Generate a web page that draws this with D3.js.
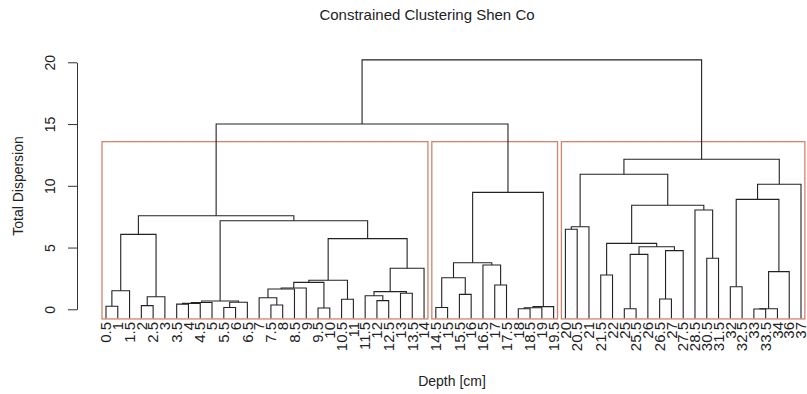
<!DOCTYPE html>
<html>
<head>
<meta charset="utf-8">
<script src="https://cdn.jsdelivr.net/npm/d3@7"></script>
<style>
	body { margin: 0; background: #fff; }
	text { font-family: 'Liberation Sans', Arial, sans-serif; fill: #222; }
</style>
</head>
<body>
<script>
// leaf labels (sample depths, cm), left to right
const depths = [0.5, 1, 1.5, 2, 2.5, 3, 3.5, 4, 4.5, 5, 5.5, 6, 6.5, 7, 7.5, 8, 8.5, 9, 9.5, 10,
	10.5, 11, 11.5, 12, 12.5, 13, 13.5, 14, 14.5, 15, 15.5, 16, 16.5, 17, 17.5, 18, 18.5, 19, 19.5,
	20, 20.5, 21, 21.5, 22, 25, 25.5, 26, 26.5, 27, 27.5, 28.5, 30.5, 31.5, 32, 32.5, 33, 33.5, 34, 36, 37];

// hclust-style merge table: negative = leaf number, positive = earlier merge (1-based)
const merges = [
	[-1, -2], [1, -3], [-4, -5], [3, -6], [2, 4],
	[-7, -8], [6, -9], [7, -10], [-11, -12], [9, -13], [8, 10],
	[-15, -16], [-14, 12], [13, -17], [14, -18], [-19, -20], [15, 16], [-21, -22], [17, 18],
	[-24, -25], [-23, 20], [-26, -27], [21, 22], [23, -28], [19, 24], [11, 25], [5, 26],
	[-29, -30], [-31, -32], [28, 29], [-34, -35], [-33, 31], [30, 32],
	[-36, -37], [34, -38], [35, -39], [33, 36], [27, 37],
	[-40, -41], [39, -42], [-43, -44], [-45, -46], [42, -47], [-48, -49], [44, -50], [43, 45], [41, 46],
	[-52, -53], [-51, 48], [47, 49], [40, 50],
	[-54, -55], [-56, -57], [53, -58], [54, -59], [52, 55], [56, -60], [51, 57], [38, 58]
];
const heights = [
	0.25, 1.5, 0.3, 1.02, 6.07,
	0.42, 0.48, 0.55, 0.15, 0.57, 0.67,
	0.35, 0.94, 1.64, 1.72, 0.1, 2.18, 0.81, 2.35,
	0.7, 1.1, 1.3, 1.43, 3.32, 5.72, 7.17, 7.58,
	0.15, 1.21, 2.56, 1.97, 3.59, 3.77,
	0.05, 0.12, 0.22, 9.47, 15.0,
	6.48, 6.69, 2.78, 0.05, 4.45, 0.83, 4.75, 5.07, 5.34,
	4.13, 8.04, 8.42, 10.93,
	1.83, 0.02, 0.04, 3.05, 8.9, 10.12, 12.15, 20.2
];

// three zones (leaf ranges) outlined like rect.hclust(k = 3)
const zoneFirst = [1, 29, 40];
const zoneLast = [28, 39, 60];

const yTicks = [0, 5, 10, 15, 20];

const width = 807, height = 394;
const leafBottom = -0.72;
const boxBottom = -0.78;

const svg = d3.select('body').append('svg')
	.attr('width', width)
	.attr('height', height)
	.attr('xmlns', 'http://www.w3.org/2000/svg');

svg.append('rect').attr('width', width).attr('height', height).attr('fill', '#fff');

const xScale = d3.scaleLinear().domain([1, depths.length]).range([106, 801]);
const yScale = d3.scaleLinear().domain([0, 20]).range([309.3, 62.3]);

// position + height of each node
function nodeInfo(ref, pos) {
	if (ref < 0) return { x: xScale(-ref), h: leafBottom };
	return pos[ref - 1];
}

const pos = [];
const paths = [];
merges.forEach((m, i) => {
	const a = nodeInfo(m[0], pos);
	const b = nodeInfo(m[1], pos);
	const h = heights[i];
	pos.push({ x: (a.x + b.x) / 2, h: h });
	paths.push(`M${a.x},${yScale(a.h)}V${yScale(h)}H${b.x}V${yScale(b.h)}`);
});

// zone boxes
const sortedH = heights.slice().sort((p, q) => q - p);
const k = zoneFirst.length;
const boxTop = (sortedH[k - 2] + sortedH[k - 1]) / 2;
const step = xScale(2) - xScale(1);

svg.append('g')
	.selectAll('rect')
	.data(zoneFirst)
	.enter()
	.append('rect')
	.attr('x', (d) => xScale(d) - 0.34 * step)
	.attr('y', yScale(boxTop))
	.attr('width', (d, i) => xScale(zoneLast[i]) + 0.33 * step - (xScale(d) - 0.34 * step))
	.attr('height', yScale(boxBottom) - yScale(boxTop))
	.attr('fill', 'none')
	.attr('stroke', '#d4836b')
	.attr('stroke-width', 1.3);

svg.append('g')
	.selectAll('path')
	.data(paths)
	.enter()
	.append('path')
	.attr('d', (d) => d)
	.attr('fill', 'none')
	.attr('stroke', '#222')
	.attr('stroke-width', 1.1);

// leaf labels
svg.append('g')
	.selectAll('text')
	.data(depths)
	.enter()
	.append('text')
	.attr('transform', (d, i) => `translate(${xScale(i + 1)},322) rotate(-90)`)
	.attr('text-anchor', 'end')
	.attr('dy', '0.35em')
	.style('font-size', '15px')
	.text((d) => String(d));

// y axis
const yAxis = d3.axisLeft(yScale).tickValues(yTicks).tickSize(9).tickSizeOuter(0);
const yAxisG = svg.append('g').attr('transform', 'translate(77,0)').call(yAxis);
yAxisG.select('.domain').attr('stroke', '#333');
yAxisG.selectAll('.tick line').attr('stroke', '#333');
yAxisG.selectAll('.tick text')
	.attr('x', null)
	.attr('dy', null)
	.attr('transform', 'translate(-27,0) rotate(-90)')
	.attr('text-anchor', 'middle')
	.attr('dominant-baseline', 'central')
	.style('font-size', '14px')
	.style('font-family', "'Liberation Sans', Arial, sans-serif")
	.attr('fill', '#222');

// titles
svg.append('text')
	.attr('x', 427)
	.attr('y', 20)
	.attr('text-anchor', 'middle')
	.style('font-size', '15px')
	.text('Constrained Clustering Shen Co');

svg.append('text')
	.attr('x', 452)
	.attr('y', 386)
	.attr('text-anchor', 'middle')
	.style('font-size', '14px')
	.text('Depth [cm]');

svg.append('text')
	.attr('transform', 'translate(18,186) rotate(-90)')
	.attr('text-anchor', 'middle')
	.attr('dominant-baseline', 'central')
	.style('font-size', '14px')
	.text('Total Dispersion');
</script>
</body>
</html>
